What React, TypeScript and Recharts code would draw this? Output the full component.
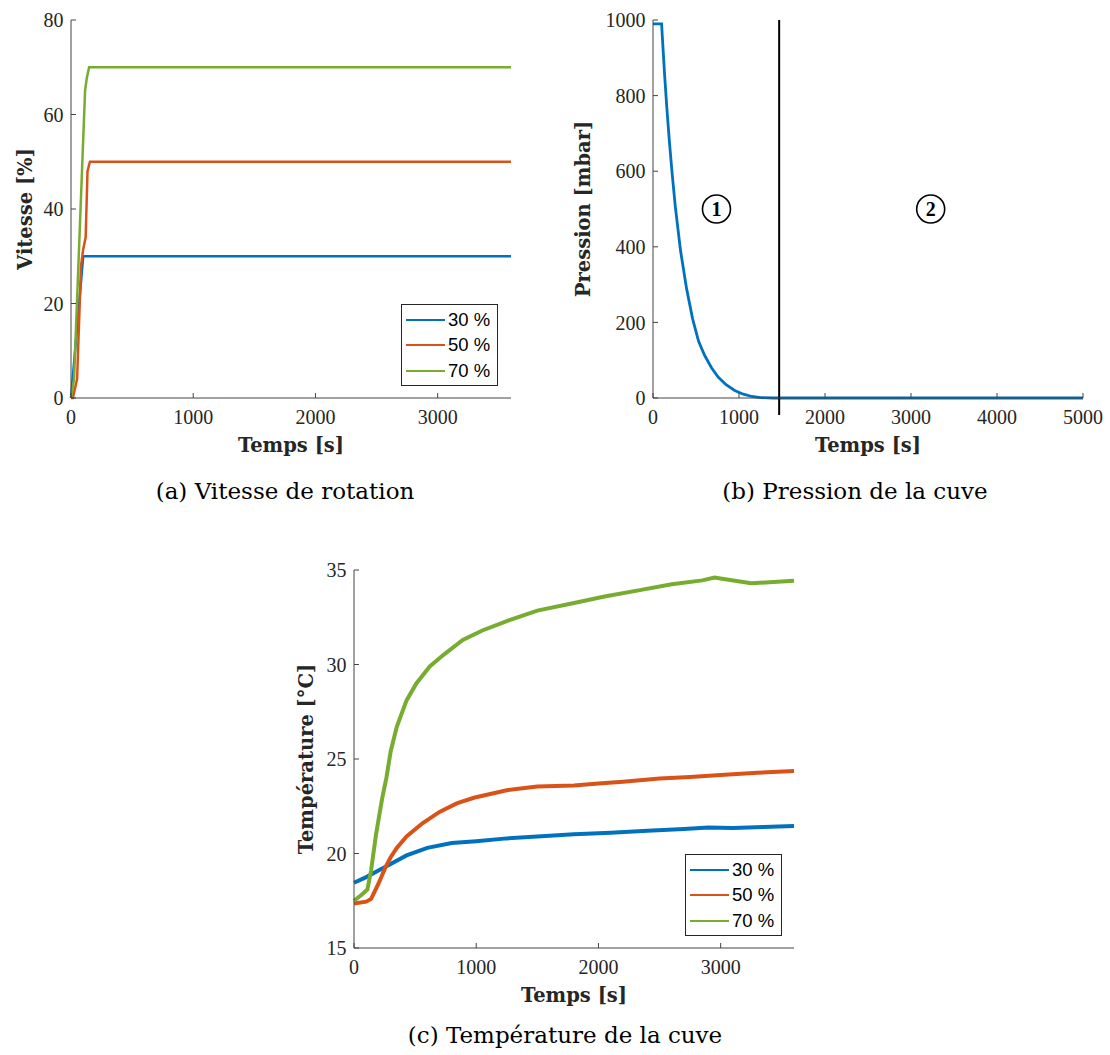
import React from 'react';
import {
  LineChart,
  Line,
  XAxis,
  YAxis,
  Legend,
  Label,
  ReferenceLine,
  ReferenceDot,
} from 'recharts';

// (a) vitesse de rotation
const speedTime30 = [0, 50, 100, 3600];
const speed30 = [0, 15, 30, 30];
const speedTime50 = [0, 15, 50, 82, 100, 120, 135, 155, 3600];
const speed50 = [0, 0, 4, 28, 31.5, 34, 48, 50, 50];
const speedTime70 = [0, 25, 115, 128, 148, 3600];
const speed70 = [0, 4, 65, 67.5, 70, 70];

// (b) pression de la cuve
const presTime = [0, 100, 110, 135, 160, 190, 220, 260, 320, 390, 460, 530, 600, 680, 760, 850, 950, 1050, 1150, 1250, 1400, 5000];
const pres = [990, 990, 950, 855, 770, 680, 600, 505, 390, 290, 210, 150, 113, 80, 55, 35, 20, 10, 4, 1, 0, 0];
const phaseLimit = 1467;
const phaseMarks = [
  { t: 738, p: 500, label: '1' },
  { t: 3229, p: 500, label: '2' },
];

// (c) température de la cuve
const tempTime30 = [0, 100, 200, 300, 430, 600, 800, 1000, 1250, 1500, 1800, 2100, 2400, 2700, 2900, 3100, 3350, 3600];
const temp30 = [18.45, 18.75, 19.1, 19.45, 19.9, 20.3, 20.55, 20.65, 20.8, 20.9, 21.02, 21.1, 21.2, 21.3, 21.38, 21.35, 21.4, 21.45];
const tempTime50 = [0, 100, 140, 200, 260, 300, 350, 430, 560, 700, 840, 980, 1250, 1500, 1800, 2000, 2200, 2500, 2750, 3000, 3300, 3600];
const temp50 = [17.35, 17.45, 17.6, 18.4, 19.3, 19.8, 20.3, 20.9, 21.6, 22.2, 22.65, 22.95, 23.35, 23.55, 23.6, 23.7, 23.8, 23.97, 24.05, 24.15, 24.27, 24.37];
const tempTime70 = [0, 60, 110, 140, 180, 230, 265, 300, 350, 430, 510, 620, 730, 890, 1050, 1250, 1500, 1800, 2050, 2350, 2600, 2850, 2950, 3050, 3250, 3400, 3600];
const temp70 = [17.5, 17.8, 18.1, 19.1, 21.0, 22.9, 24.0, 25.4, 26.7, 28.1, 29.0, 29.9, 30.5, 31.3, 31.8, 32.3, 32.85, 33.25, 33.6, 33.95, 34.25, 34.45, 34.6, 34.5, 34.3, 34.35, 34.43];

const seriesNames = ['30 %', '50 %', '70 %'];
const timeTicks = [0, 1000, 2000, 3000];
const presTimeTicks = [0, 1000, 2000, 3000, 4000, 5000];
const speedTicks = [0, 20, 40, 60, 80];
const presTicks = [0, 200, 400, 600, 800, 1000];
const tempTicks = [15, 20, 25, 30, 35];

const BLUE = '#0072BD';
const ORANGE = '#D95319';
const GREEN = '#77AC30';
const AXIS = '#444';
const TEXT = '#262626';
const TICK_FONT = "'Liberation Serif', serif";
const TITLE_FONT = "'DejaVu Serif', serif";

const toPoints = (xs: number[], ys: number[]) => xs.map((t, i) => ({ t, v: ys[i] }));

const tickStyle = { fill: TEXT, fontSize: 20, fontFamily: TICK_FONT };
const blank = () => '';

const xTitle = (text: string, cx: number) => () => (
  <text x={cx} y={452} textAnchor="middle" fill={TEXT} fontFamily={TITLE_FONT} fontSize={19.5} fontWeight="bold">
    {text}
  </text>
);

const yTitle = (text: string, bx: number) => () => (
  <text
    x={bx}
    y={209}
    transform={`rotate(-90 ${bx} 209)`}
    textAnchor="middle"
    fill={TEXT}
    fontFamily={TITLE_FONT}
    fontSize={19.5}
    fontWeight="bold"
  >
    {text}
  </text>
);

// the phase limit hangs a little below the time axis
const limitShape = (props: any) => {
  const top = Math.min(props.y1, props.y2);
  const bottom = Math.max(props.y1, props.y2);
  return <line x1={props.x1} x2={props.x2} y1={top} y2={bottom + 17} stroke="#000" strokeWidth={2} />;
};

const renderLegend = (props: any) => (
  <div
    style={{
      width: 97,
      height: 82,
      boxSizing: 'border-box',
      border: `1px solid ${TEXT}`,
      background: '#fff',
      paddingTop: 2,
    }}
  >
    {(props.payload || []).map((entry: any) => (
      <div key={entry.value} style={{ display: 'flex', alignItems: 'center', height: 25.5 }}>
        <div style={{ width: 39, height: 2, background: entry.color, marginLeft: 4, marginRight: 3 }} />
        <span style={{ fontFamily: "'Liberation Sans', sans-serif", fontSize: 18.5, color: '#000', lineHeight: 1 }}>
          {entry.value}
        </span>
      </div>
    ))}
  </div>
);

const Caption = ({ text, cx, top }: { text: string; cx: number; top: number }) => (
  <div
    style={{
      position: 'absolute',
      left: cx,
      top,
      transform: 'translateX(-50%)',
      whiteSpace: 'nowrap',
      fontFamily: TITLE_FONT,
      fontSize: 23,
      lineHeight: '23px',
      color: '#000',
    }}
  >
    {text}
  </div>
);

const boxAxes = (xDomain: number[], xTicks: number[], yDomain: number[], yTicks: number[]) => [
  <XAxis
    key="top"
    xAxisId="top"
    orientation="top"
    type="number"
    domain={xDomain}
    ticks={xTicks}
    interval={0}
    height={0}
    tickSize={-5}
    tickFormatter={blank}
    tick={{ fontSize: 0 }}
    stroke={AXIS}
  />,
  <YAxis
    key="right"
    yAxisId="right"
    orientation="right"
    type="number"
    domain={yDomain}
    ticks={yTicks}
    interval={0}
    width={0}
    tickSize={-5}
    tickFormatter={blank}
    tick={{ fontSize: 0 }}
    stroke={AXIS}
  />,
];

export default function App() {
  return (
    <div style={{ position: 'absolute', left: 0, top: 0, width: 1110, height: 1055, background: '#fff' }}>
      {/* (a) */}
      <div style={{ position: 'absolute', left: 0, top: 0 }}>
        <LineChart width={560} height={470} margin={{ top: 20, right: 49, bottom: 32, left: 11 }}>
          <XAxis
            type="number"
            dataKey="t"
            domain={[0, 3600]}
            ticks={timeTicks}
            interval={0}
            height={40}
            tickSize={-5}
            tickMargin={17}
            tick={tickStyle}
            stroke={AXIS}
          >
            <Label content={xTitle('Temps [s]', 291)} />
          </XAxis>
          <YAxis
            type="number"
            domain={[0, 80]}
            ticks={speedTicks}
            interval={0}
            width={60}
            tickSize={-5}
            tickMargin={12.5}
            tick={tickStyle}
            stroke={AXIS}
          >
            <Label content={yTitle('Vitesse [%]', 32)} />
          </YAxis>
          {boxAxes([0, 3600], timeTicks, [0, 80], speedTicks)}
          <Line data={toPoints(speedTime30, speed30)} dataKey="v" name={seriesNames[0]} stroke={BLUE} strokeWidth={2.5} dot={false} type="linear" isAnimationActive={false} />
          <Line data={toPoints(speedTime50, speed50)} dataKey="v" name={seriesNames[1]} stroke={ORANGE} strokeWidth={2.5} dot={false} type="linear" isAnimationActive={false} />
          <Line data={toPoints(speedTime70, speed70)} dataKey="v" name={seriesNames[2]} stroke={GREEN} strokeWidth={2.5} dot={false} type="linear" isAnimationActive={false} />
          <Legend
            layout="vertical"
            align="center"
            verticalAlign="middle"
            content={renderLegend}
            wrapperStyle={{ position: 'absolute', left: 401, top: 304, width: 97, height: 82 }}
          />
        </LineChart>
      </div>

      {/* (b) */}
      <div style={{ position: 'absolute', left: 560, top: 0 }}>
        <LineChart width={550} height={470} margin={{ top: 20, right: 27, bottom: 32, left: 23 }}>
          <XAxis
            type="number"
            dataKey="t"
            domain={[0, 5000]}
            ticks={presTimeTicks}
            interval={0}
            height={40}
            tickSize={-5}
            tickMargin={17}
            tick={tickStyle}
            stroke={AXIS}
          >
            <Label content={xTitle('Temps [s]', 308)} />
          </XAxis>
          <YAxis
            type="number"
            domain={[0, 1000]}
            ticks={presTicks}
            interval={0}
            width={70}
            tickSize={-5}
            tickMargin={12.5}
            tick={tickStyle}
            stroke={AXIS}
          >
            <Label content={yTitle('Pression [mbar]', 30)} />
          </YAxis>
          {boxAxes([0, 5000], presTimeTicks, [0, 1000], presTicks)}
          <Line data={toPoints(presTime, pres)} dataKey="v" stroke={BLUE} strokeWidth={2.8} dot={false} type="linear" isAnimationActive={false} />
          <ReferenceLine x={phaseLimit} stroke="#000" strokeWidth={2} shape={limitShape} ifOverflow="visible" />
          {phaseMarks.map((m) => (
            <ReferenceDot
              key={m.label}
              x={m.t}
              y={m.p}
              r={14}
              fill="none"
              stroke="#000"
              strokeWidth={1.6}
              label={{
                value: m.label,
                position: 'center',
                fill: '#000',
                fontSize: 20,
                fontWeight: 'bold',
                fontFamily: TICK_FONT,
              }}
            />
          ))}
        </LineChart>
      </div>

      {/* (c) */}
      <div style={{ position: 'absolute', left: 280, top: 550 }}>
        <LineChart width={560} height={470} margin={{ top: 20, right: 46, bottom: 32, left: 14 }}>
          <XAxis
            type="number"
            dataKey="t"
            domain={[0, 3600]}
            ticks={timeTicks}
            interval={0}
            height={40}
            tickSize={-5}
            tickMargin={17}
            tick={tickStyle}
            stroke={AXIS}
          >
            <Label content={xTitle('Temps [s]', 294)} />
          </XAxis>
          <YAxis
            type="number"
            domain={[15, 35]}
            ticks={tempTicks}
            interval={0}
            width={60}
            tickSize={-5}
            tickMargin={12.5}
            tick={tickStyle}
            stroke={AXIS}
          >
            <Label content={yTitle('Température [°C]', 33)} />
          </YAxis>
          {boxAxes([0, 3600], timeTicks, [15, 35], tempTicks)}
          <Line data={toPoints(tempTime30, temp30)} dataKey="v" name={seriesNames[0]} stroke={BLUE} strokeWidth={4} dot={false} type="linear" isAnimationActive={false} />
          <Line data={toPoints(tempTime50, temp50)} dataKey="v" name={seriesNames[1]} stroke={ORANGE} strokeWidth={4} dot={false} type="linear" isAnimationActive={false} />
          <Line data={toPoints(tempTime70, temp70)} dataKey="v" name={seriesNames[2]} stroke={GREEN} strokeWidth={4} dot={false} type="linear" isAnimationActive={false} />
          <Legend
            layout="vertical"
            align="center"
            verticalAlign="middle"
            content={renderLegend}
            wrapperStyle={{ position: 'absolute', left: 405, top: 304, width: 97, height: 82 }}
          />
        </LineChart>
      </div>

      <Caption text="(a) Vitesse de rotation" cx={285} top={480} />
      <Caption text="(b) Pression de la cuve" cx={855} top={480} />
      <Caption text="(c) Température de la cuve" cx={565} top={1024} />
    </div>
  );
}
